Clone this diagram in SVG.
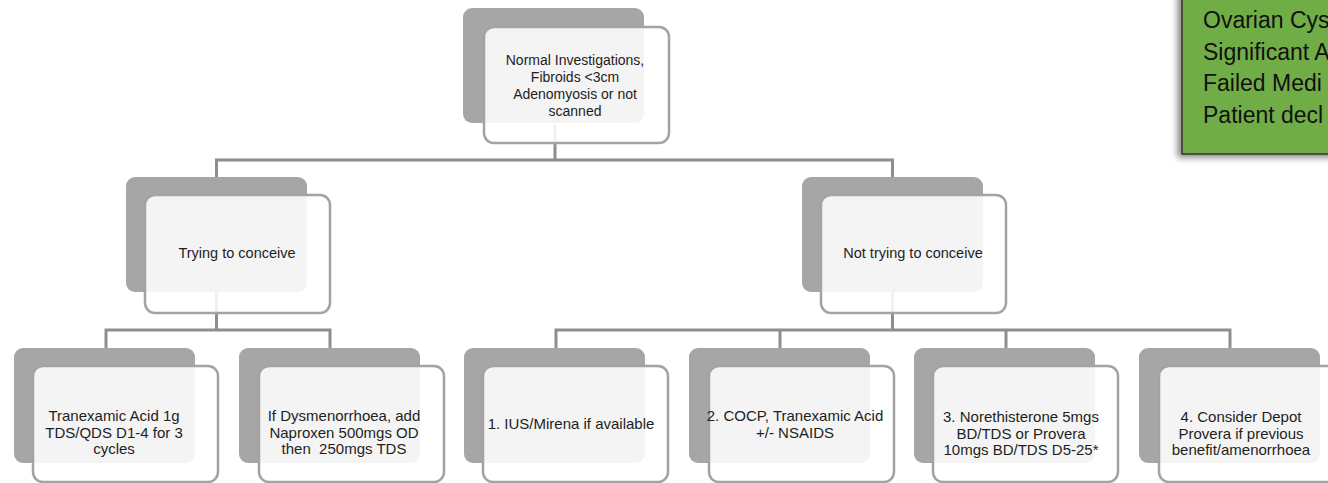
<svg xmlns="http://www.w3.org/2000/svg" width="1328" height="483" viewBox="0 0 1328 483">
<defs>
<style>
.back{fill:#a6a6a6;}
.front{fill:#ffffff;fill-opacity:0.88;stroke:#a3a3a3;stroke-width:2.5;}
.conn{fill:none;stroke:#8e8e8e;stroke-width:3;}
.t{font-family:"Liberation Sans",Arial,sans-serif;fill:#1e1e1e;text-anchor:middle;}
.t14{font-size:14px;}
.t145{font-size:14.5px;}
.t15{font-size:15px;}
.g{font-family:"Liberation Sans",Arial,sans-serif;font-size:23px;fill:#111111;}
</style>
<filter id="sh" x="-20%" y="-20%" width="140%" height="140%">
<feDropShadow dx="-4" dy="3" stdDeviation="3" flood-color="#000" flood-opacity="0.45"/>
</filter>
</defs>
<rect width="1328" height="483" fill="#ffffff"/>

<g id="connectors">
<path class="conn" d="M555 125 V160 M216.5 177 V160 H892.5 V177"/>
<path class="conn" d="M216.5 292 V330 M106 348 V330 H330 V348"/>
<path class="conn" d="M892.5 292 V330 M556 348 V330 H1230 V348 M780 330 V348 M1006 330 V348"/>
</g>

<g id="node-top">
<rect class="back" x="463" y="8" width="181" height="115" rx="9"/>
<rect class="front" x="484" y="27" width="185" height="116" rx="10"/>
<text class="t t14"><tspan x="575" y="65">Normal Investigations,</tspan><tspan x="575" y="82">Fibroids &lt;3cm</tspan><tspan x="575" y="99">Adenomyosis or not</tspan><tspan x="575" y="116">scanned</tspan></text>
</g>

<g id="node-trying">
<rect class="back" x="126" y="177" width="181" height="115" rx="9"/>
<rect class="front" x="145" y="195" width="185" height="118" rx="10"/>
<text class="t t145" x="237" y="258">Trying to conceive</text>
</g>

<g id="node-not-trying">
<rect class="back" x="802" y="177" width="181" height="115" rx="9"/>
<rect class="front" x="821" y="195" width="185" height="118" rx="10"/>
<text class="t t145" x="913" y="258">Not trying to conceive</text>
</g>

<g id="node-tranexamic">
<rect class="back" x="14" y="348" width="181" height="115" rx="9"/>
<rect class="front" x="33" y="366" width="185" height="116" rx="10"/>
<text class="t t15"><tspan x="114" y="421">Tranexamic Acid 1g</tspan><tspan x="114" y="437.5">TDS/QDS D1-4 for 3</tspan><tspan x="114" y="454">cycles</tspan></text>
</g>

<g id="node-naproxen">
<rect class="back" x="239" y="348" width="181" height="115" rx="9"/>
<rect class="front" x="259" y="366" width="185" height="116" rx="10"/>
<text class="t t15"><tspan x="344" y="421">If Dysmenorrhoea, add</tspan><tspan x="344" y="437.5">Naproxen 500mgs OD</tspan><tspan x="344" y="454" xml:space="preserve">then  250mgs TDS</tspan></text>
</g>

<g id="node-ius">
<rect class="back" x="464" y="348" width="181" height="115" rx="9"/>
<rect class="front" x="483" y="366" width="185" height="116" rx="10"/>
<text class="t t15" x="571" y="429">1. IUS/Mirena if available</text>
</g>

<g id="node-cocp">
<rect class="back" x="689" y="348" width="181" height="115" rx="9"/>
<rect class="front" x="709" y="366" width="185" height="116" rx="10"/>
<text class="t t15"><tspan x="795" y="421">2. COCP, Tranexamic Acid</tspan><tspan x="795" y="438">+/- NSAIDS</tspan></text>
</g>

<g id="node-norethisterone">
<rect class="back" x="914" y="348" width="181" height="115" rx="9"/>
<rect class="front" x="933" y="366" width="185" height="116" rx="10"/>
<text class="t t15"><tspan x="1021" y="422">3. Norethisterone 5mgs</tspan><tspan x="1021" y="438.5">BD/TDS or Provera</tspan><tspan x="1021" y="455">10mgs BD/TDS D5-25*</tspan></text>
</g>

<g id="node-depot">
<rect class="back" x="1139" y="348" width="181" height="115" rx="9"/>
<rect class="front" x="1159" y="366" width="185" height="116" rx="10"/>
<text class="t t15"><tspan x="1241" y="422">4. Consider Depot</tspan><tspan x="1241" y="438.5">Provera if previous</tspan><tspan x="1241" y="455">benefit/amenorrhoea</tspan></text>
</g>

<g id="node-referral">
<rect x="1182" y="-10" width="170" height="164" fill="#70ad47" stroke="#333333" stroke-width="1.5" filter="url(#sh)"/>
<text class="g"><tspan x="1203" y="28">Ovarian Cys</tspan><tspan x="1203" y="60">Significant A</tspan><tspan x="1203" y="91">Failed Medi</tspan><tspan x="1203" y="123">Patient decl</tspan></text>
</g>
</svg>
